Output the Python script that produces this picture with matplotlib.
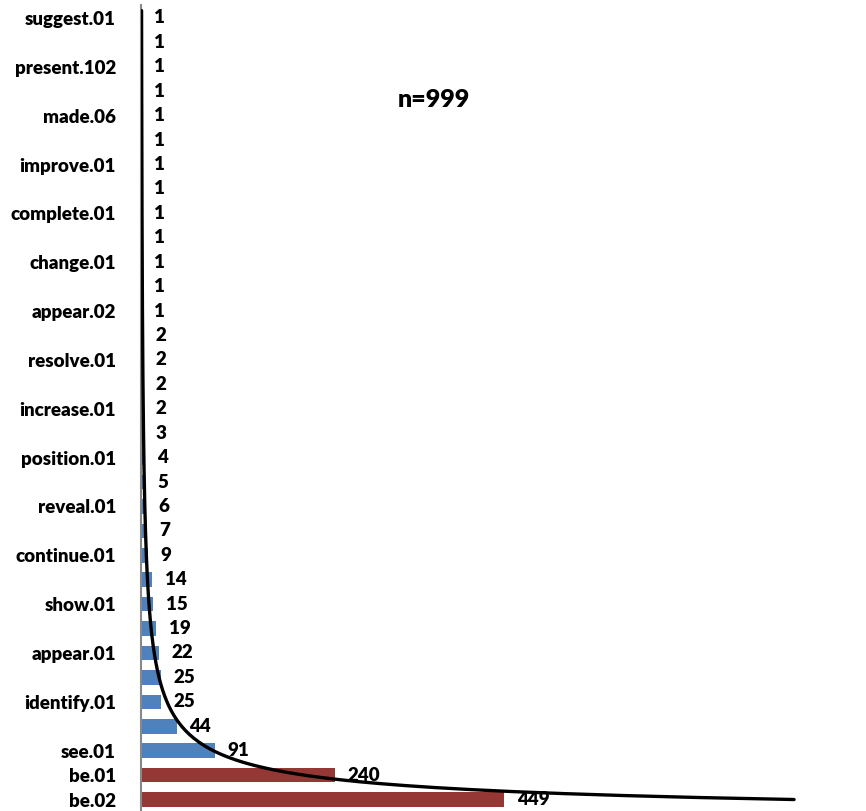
import numpy as np
import matplotlib
matplotlib.use("Agg")
import matplotlib.pyplot as plt

# categories from bottom (rank 1) to top; unnamed ones were not labelled in the chart
labels = ["be.02", "be.01", "see.01", "", "identify.01", "", "appear.01", "",
          "show.01", "", "continue.01", "", "reveal.01", "", "position.01", "",
          "increase.01", "", "resolve.01", "", "appear.02", "", "change.01", "",
          "complete.01", "", "improve.01", "", "made.06", "", "present.102", "",
          "suggest.01"]
counts = [449, 240, 91, 44, 25, 25, 22, 19, 15, 14, 9, 7, 6, 5, 4, 3,
          2, 2, 2, 2, 1, 1, 1, 1, 1, 1, 1, 1, 1, 1, 1, 1, 1]
highlight = ["be.02", "be.01"]

blue = "#4F81BD"
red = "#953735"
font = ["Lato", "DejaVu Sans"]

ranks = np.arange(1, len(counts) + 1)
pos = ranks - 1
colors = [red if lab in highlight else blue for lab in labels]

fig = plt.figure(figsize=(8.66, 8.11), dpi=100)
ax = fig.add_axes([0.1628, 0.0, 0.818, 0.9938])

ax.barh(pos, counts, height=0.6, color=colors, zorder=2)

for p, c in zip(pos, counts):
    ax.annotate(str(c), (c, p), xytext=(9, 0), textcoords="offset points",
                va="center", ha="left", fontsize=13.5, fontweight="heavy",
                family=font, color="black")

# power trendline, least squares on log-log like the spreadsheet does
b, a = np.polyfit(np.log(ranks), np.log(counts), 1)
rr = np.linspace(1, len(counts) + 0.3, 400)
ax.plot(np.exp(a) * rr ** b, rr - 1, color="black", lw=2.4, zorder=3,
        solid_capstyle="round")

ax.text(0.362, 0.882, f"n={sum(counts)}", transform=ax.transAxes,
        fontsize=18, fontweight="heavy", family=font, ha="left", va="center")

ax.set_yticks(pos)
ax.set_yticklabels(labels, fontsize=13.5, fontweight="heavy", family=font)
ax.tick_params(axis="y", length=0, pad=18)
ax.set_xticks([])
ax.set_ylim(-0.47, 32.53)
ax.set_xlim(0, 875)

for side in ["top", "right", "bottom"]:
    ax.spines[side].set_visible(False)
ax.spines["left"].set_color("#888888")
ax.spines["left"].set_linewidth(1.5)

fig.savefig("out.png", dpi=100)
